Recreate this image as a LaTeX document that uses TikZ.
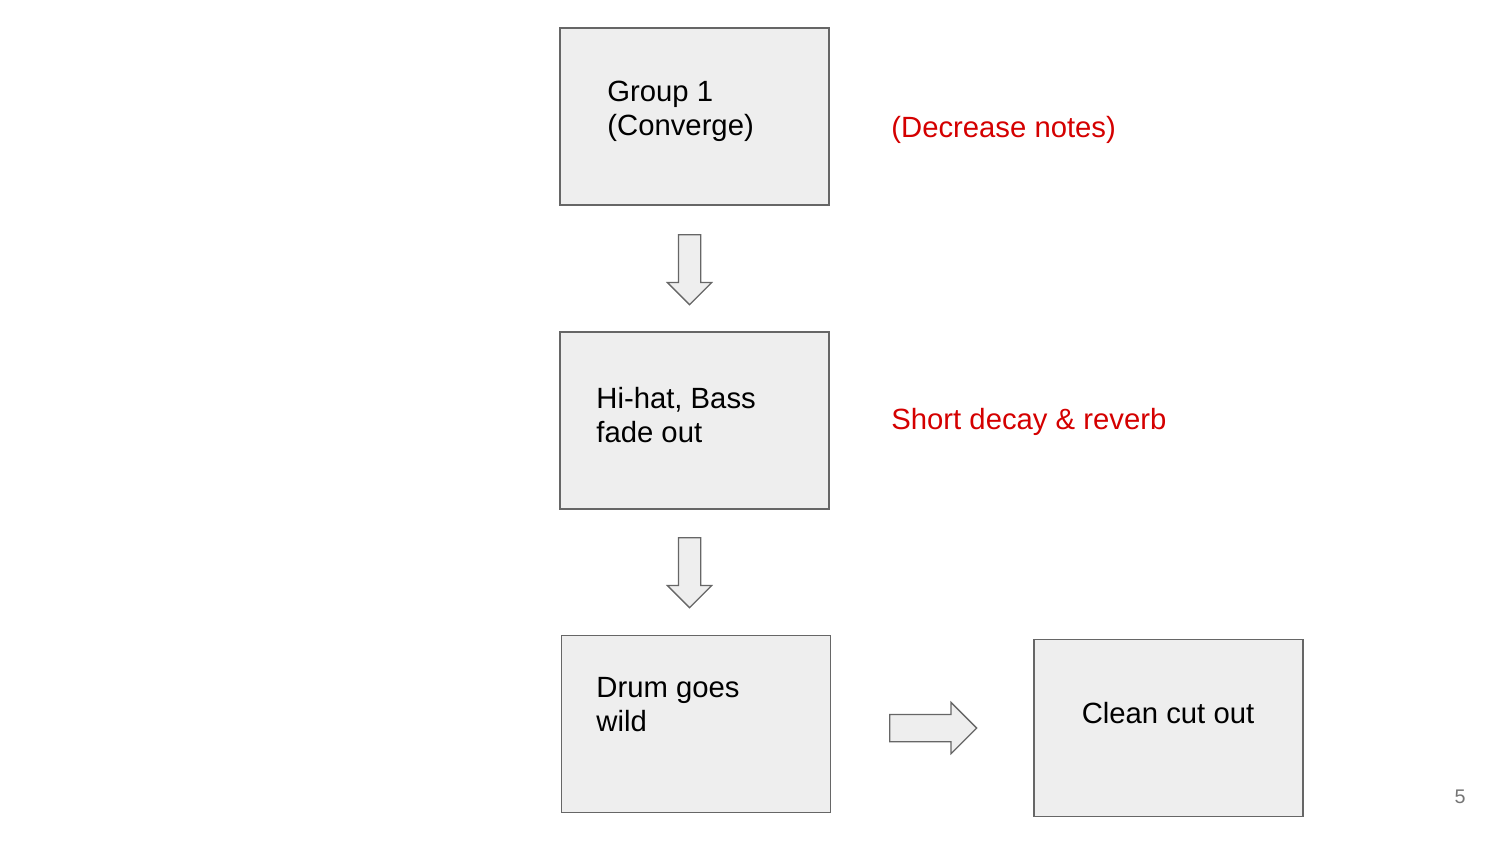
\documentclass[tikz,border=0pt]{standalone}
\usepackage{fontspec}
\setmainfont{Liberation Sans}
\usepackage{xcolor}
\usetikzlibrary{shapes.arrows}

\definecolor{boxfill}{HTML}{EEEEEE}
\definecolor{boxline}{HTML}{666666}
\definecolor{notered}{HTML}{D40000}
\definecolor{pagegrey}{HTML}{757575}
\newcommand{\pxu}{0.4818pt}

\begin{document}
\begin{tikzpicture}[x=\pxu, y=-\pxu,
        stage/.style={draw=boxline, fill=boxfill, line width=0.6pt,
            minimum width=269*\pxu, minimum height=177*\pxu, inner sep=0pt},
        boxtext/.style={anchor=west, align=left, inner sep=0pt,
            font=\fontsize{14.1}{16.4}\selectfont},
        notetxt/.style={anchor=west, inner sep=0pt, text=notered,
            font=\fontsize{14.1}{16.4}\selectfont},
        blockarrow/.style={shape=single arrow, draw=boxline, fill=boxfill,
            line width=0.6pt, anchor=tail, inner xsep=0pt,
            single arrow tip angle=90}]
            \useasboundingbox (0, 0) rectangle (1500, 843);

            \node[stage] (group) at (694.5, 116.5) {};
            \node[stage] (hihat) at (694.5, 420.5) {};
            \node[stage] (drum) at (696, 724) {};
            \node[stage] (clean) at (1168.5, 728) {};

            \node[boxtext] (grouptxt) at (607, 111.5) {Group 1\\(Converge)};
            \node[boxtext] (hihattxt) at (596, 415) {Hi-hat, Bass\\fade out};
            \node[boxtext] (drumtxt) at (596, 704.5) {Drum goes\\wild};
            \node[boxtext, anchor=center] (cleantxt) at (1168, 713.5) {Clean cut out};

            \node[notetxt] (decrease) at (891, 129.5) {(Decrease notes)};
            \node[notetxt] (decay) at (891, 421.5) {Short decay \& reverb};

            \node[blockarrow, rotate=-90, minimum height=70*\pxu,
                inner ysep=10.5*\pxu, single arrow head extend=11*\pxu] (down1) at (689.5, 234) {};
            \node[blockarrow, rotate=-90, minimum height=70*\pxu,
                inner ysep=10.5*\pxu, single arrow head extend=11*\pxu] (down2) at (689.5, 537) {};
            \node[blockarrow, minimum height=87*\pxu,
                inner ysep=13*\pxu, single arrow head extend=12*\pxu] (right1) at (889, 728) {};

            \node[inner sep=0pt, text=pagegrey, font=\fontsize{9.5}{11}\selectfont] (page) at (1460, 797) {5};
        \end{tikzpicture}
\end{document}
